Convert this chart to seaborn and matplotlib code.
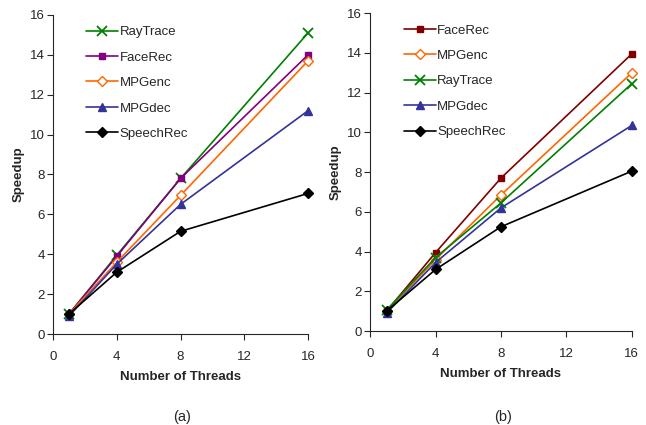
import numpy as np
import pandas as pd
import matplotlib
matplotlib.use("Agg")
import matplotlib.pyplot as plt
import seaborn as sns

# thread counts
threads = [1, 4, 8, 16]

# (a) speedups
a_raytrace = [1.0, 3.95, 7.8, 15.1]
a_facerec = [1.0, 3.9, 7.8, 14.0]
a_mpgenc = [1.0, 3.6, 6.95, 13.7]
a_mpgdec = [0.9, 3.5, 6.5, 11.2]
a_speechrec = [1.0, 3.1, 5.15, 7.05]

# (b) speedups
b_facerec = [1.0, 3.95, 7.7, 13.95]
b_mpgenc = [1.0, 3.6, 6.85, 13.0]
b_raytrace = [1.05, 3.7, 6.45, 12.45]
b_mpgdec = [0.9, 3.45, 6.2, 10.35]
b_speechrec = [1.0, 3.1, 5.25, 8.05]

xticks = [0, 4, 8, 12, 16]
yticks = [0, 2, 4, 6, 8, 10, 12, 14, 16]

sns.set_style("ticks")
plt.rcParams['font.family'] = ['Liberation Sans', 'DejaVu Sans']

# name -> (color, marker, facecolor, size)
styles = {
    'RayTrace': ('#008000', 'x', None, 7),
    'FaceRec_a': ('#800080', 's', None, 5),
    'FaceRec_b': ('#800000', 's', None, 5),
    'MPGenc': ('#FF6600', 'D', 'white', 5),
    'MPGdec': ('#333399', '^', None, 6),
    'SpeechRec': ('#000000', 'D', None, 5.5),
}

panel_a = [
    ('RayTrace', 'RayTrace', a_raytrace),
    ('FaceRec', 'FaceRec_a', a_facerec),
    ('MPGenc', 'MPGenc', a_mpgenc),
    ('MPGdec', 'MPGdec', a_mpgdec),
    ('SpeechRec', 'SpeechRec', a_speechrec),
]
panel_b = [
    ('FaceRec', 'FaceRec_b', b_facerec),
    ('MPGenc', 'MPGenc', b_mpgenc),
    ('RayTrace', 'RayTrace', b_raytrace),
    ('MPGdec', 'MPGdec', b_mpgdec),
    ('SpeechRec', 'SpeechRec', b_speechrec),
]

fig = plt.figure(figsize=(6.46, 4.25), dpi=100)
ax_a = fig.add_axes([0.082, 0.214, 0.395, 0.751])
ax_b = fig.add_axes([0.573, 0.221, 0.405, 0.748])


def draw_panel(ax, series, caption, cap_x):
    for label, key, vals in series:
        color, marker, face, size = styles[key]
        df = pd.DataFrame({'threads': threads, 'speedup': vals})
        sns.lineplot(data=df, x='threads', y='speedup', ax=ax, color=color,
                     marker=marker, markersize=size,
                     markeredgewidth=1.0 if marker != 'x' else 1.3,
                     markerfacecolor=face if face else color,
                     markeredgecolor=color, linewidth=1.2, label=label,
                     clip_on=False, zorder=3)
    ax.set_xlim(0, 16)
    ax.set_ylim(0, 16)
    ax.set_xticks(xticks)
    ax.set_yticks(yticks)
    ax.tick_params(labelsize=9.5, length=4, width=0.8, direction='out')
    ax.tick_params(axis='x', pad=8)
    ax.tick_params(axis='y', pad=2)
    ax.set_xlabel('Number of Threads', fontsize=9.5, fontweight='bold', labelpad=6)
    ax.set_ylabel('Speedup', fontsize=9.5, fontweight='bold', labelpad=4)
    sns.despine(ax=ax)
    for s in ['left', 'bottom']:
        ax.spines[s].set_linewidth(0.8)
    ax.legend(loc='upper left', bbox_to_anchor=(0.1, 0.99), frameon=False,
              fontsize=9.5, handlelength=2.4, labelspacing=1.0,
              handletextpad=0.1, borderaxespad=0.2)
    fig.text(cap_x, 0.02, caption, fontsize=10.5, ha='center', va='center')


draw_panel(ax_a, panel_a, '(a)', 0.282)
draw_panel(ax_b, panel_b, '(b)', 0.778)

fig.savefig('out.png', dpi=100)
